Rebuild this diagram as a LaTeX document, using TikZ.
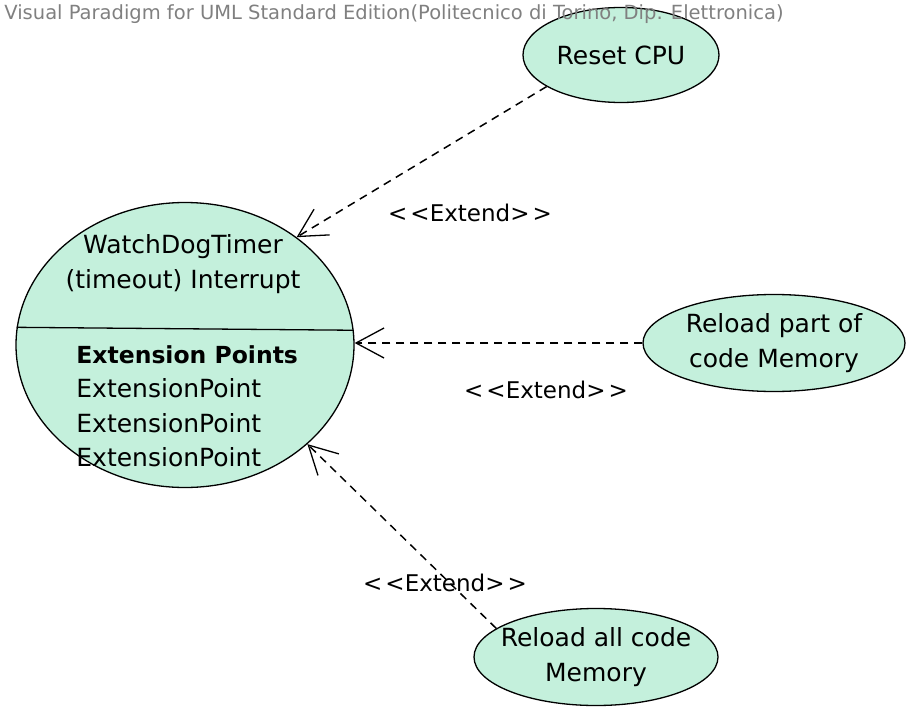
\documentclass[tikz,border=0pt]{standalone}
\usepackage{fontspec}
\setmainfont{DejaVu Sans}
\usetikzlibrary{shapes.geometric,arrows.meta}
\definecolor{ucgreen}{RGB}{196,240,220}
\newcommand{\extendlabel}{<\kern3pt<Extend>\kern3pt>}
\begin{document}
\begin{tikzpicture}[x=1pt,y=-1pt,thick]
        %
        % `usecase' is used for the ellipses.
        % `extend' is used for the dashed <<Extend>> arrows.
        \tikzstyle{usecase} = [ellipse,draw,fill=ucgreen,line width=1.3pt,inner sep=0pt]
        \tikzstyle{extend} = [line width=1.5pt,dash pattern=on 8pt off 6pt,-{Straight Barb[length=28pt,width=30pt,line width=1.3pt]}]
        \tikzstyle{ucname} = [font=\fontsize{25}{34.5}\selectfont,align=center]
        \tikzstyle{stereo} = [font=\fontsize{23}{27}\selectfont]
        %
        \useasboundingbox (0,0) rectangle (906,707);
        %
        % Main use case
        \node[usecase,minimum width=338pt,minimum height=285pt] (wdt) at (185,345) {};
        \draw[line width=1.3pt] (wdt.174.6) -- (wdt.5.4);
        \node[ucname] (wdtname) at (183,264) {WatchDogTimer\\(timeout) Interrupt};
        \node[ucname,align=left,anchor=west,inner sep=0pt] (points) at (76,406)
    	{{\fontsize{23.5}{34.5}\selectfont\textbf{Extension Points}}\\ExtensionPoint\\ExtensionPoint\\ExtensionPoint};
        %
        % Extending use cases
        \node[usecase,minimum width=196pt,minimum height=95pt,
    	label={[ucname]center:Reset CPU}] (reset) at (621,55) {};
        \node[usecase,minimum width=262pt,minimum height=97pt,
    	label={[ucname]center:Reload part of\\code Memory}] (partmem) at (774,343) {};
        \node[usecase,minimum width=244pt,minimum height=97pt,
    	label={[ucname]center:Reload all code\\Memory}] (allmem) at (596,657) {};
        %
        % Extend relations
        \draw[extend] (reset.203) -- (wdt.44);
        \draw[extend] (partmem.west) -- (partmem.west -| wdt.east);
        \draw[extend] (allmem.164) -- (wdt.321);
        \node[stereo] (ext1) at (470,213) {\extendlabel};
        \node[stereo] (ext2) at (546,390) {\extendlabel};
        \node[stereo] (ext3) at (445,583) {\extendlabel};
        %
        % Watermark
        \node[anchor=west,text=black!50,font=\fontsize{19.5}{21}\selectfont,inner sep=0pt] (vp) at (4,14)
    	{Visual Paradigm for UML Standard Edition(Politecnico di Torino, Dip. Elettronica)};
        %
\end{tikzpicture}
\end{document}
